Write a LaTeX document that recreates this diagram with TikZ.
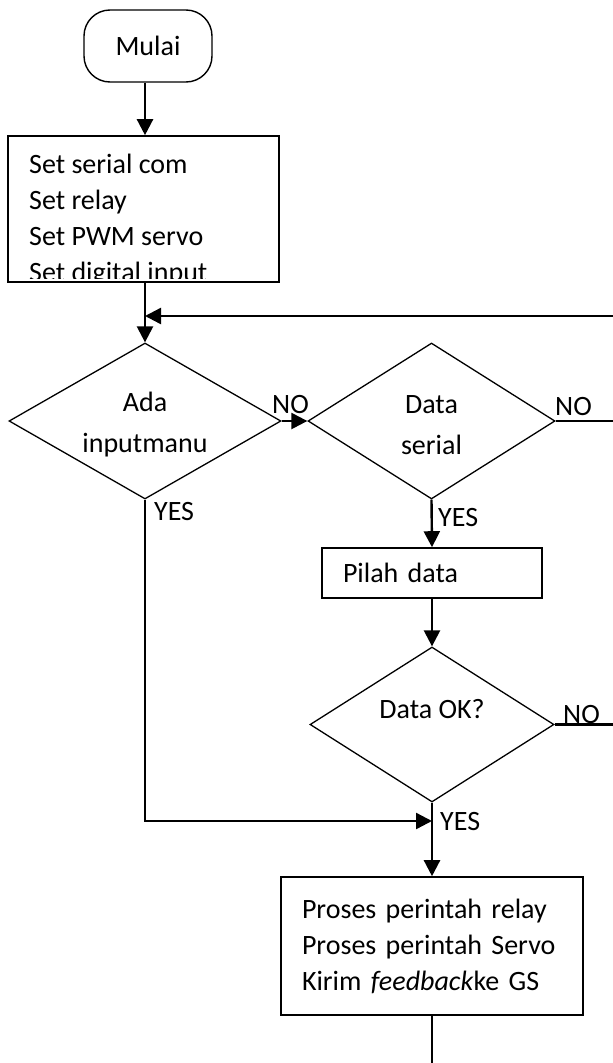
\documentclass[tikz,border=0pt]{standalone}
\usepackage{fontspec}
\setmainfont{Carlito}
\usetikzlibrary{shapes.geometric,arrows.meta,positioning}

\tikzset{
  huruf/.style={font=\fontsize{28}{36}\selectfont},
  terminal/.style={draw, line width=1.4pt, rounded corners=26pt, inner sep=0pt,
    minimum width=128pt, minimum height=72pt, huruf},
  kotak/.style={draw, line width=1.6pt, inner xsep=21pt, inner ysep=0pt,
    align=left, huruf},
  belah/.style={draw, diamond, line width=1.3pt, inner sep=0pt, aspect=1.6},
  isibelah/.style={align=center, inner sep=0pt, font=\fontsize{28}{41}\selectfont},
  lbl/.style={inner sep=0pt, anchor=base west, huruf},
  panah/.style={line width=2.4pt, -{Triangle[length=16pt,width=16pt]}},
  garis/.style={line width=2.4pt},
}

\begin{document}
\begin{tikzpicture}[x=1pt,y=-1pt]
  \useasboundingbox (0,0) rectangle (613,1063);

  % langkah-langkah
  \node[terminal] (mulai) at (148,46) {Mulai};
  \node[kotak, minimum width=271pt, minimum height=146pt] (init) at (143.5,209) {};
  \begin{scope}
    \clip (init.north west) rectangle ([yshift=4pt]init.south east);
    \node[lbl, align=left] (initteks) at (29,281)
      {Set serial com\\Set relay\\Set PWM servo\\Set digital input};
  \end{scope}
  \node[belah, minimum width=272pt, minimum height=156pt,
    label={[isibelah, yshift=-4pt]center:Ada\\inputmanu}] (cekmanual) at (145,421) {};
  \node[belah, minimum width=247pt, minimum height=156pt,
    label={[isibelah, yshift=-4pt]center:Data\\serial}] (cekserial) at (431.5,421) {};
  \node[kotak, minimum width=220pt, minimum height=50pt, text width=178pt, text depth=0pt] (pilah) at (432,573) {Pilah data};
  \node[belah, minimum width=244pt, minimum height=155pt,
    label={[isibelah, yshift=15pt]center:Data OK?}] (cekdata) at (432,724.5) {};
  \node[kotak, minimum width=302pt, minimum height=138pt, text width=260pt] (proses) at (432,946)
    {Proses perintah relay\\Proses perintah Servo\\Kirim \textit{feedback}ke GS};

  % ujung garis di tepi gambar
  \coordinate (kanan1) at (613,316);
  \coordinate (kanan2) at (613,421);
  \coordinate (kanan3) at (613,724.5);
  \coordinate (gabung) at (432,821);
  \coordinate (bawah) at (432,1063);

  % alur
  \draw[panah] (mulai.south -| cekmanual) -- (init.north -| cekmanual);
  \draw[panah] (init.south -| cekmanual) -- (cekmanual.north);
  \draw[panah] (kanan1) -- (kanan1 -| cekmanual);
  \draw[panah] (cekmanual.east) -- (cekserial.west);
  \draw[garis] (cekserial.east) -- (kanan2);
  \draw[panah] (cekserial.south) -- (pilah.north);
  \draw[panah] (pilah.south) -- (cekdata.north);
  \draw[garis] (cekdata.east) -- (kanan3);
  \draw[panah] (cekdata.south) -- (proses.north);
  \draw[panah] (cekmanual.south) |- (gabung);
  \draw[garis] (proses.south) -- (bawah);

  % keterangan
  \node[lbl] (no1) at (272,413) {NO};
  \node[lbl] (no2) at (555,415) {NO};
  \node[lbl] (no3) at (563,723) {NO};
  \node[lbl] (yes1) at (154,520) {YES};
  \node[lbl] (yes2) at (438,526) {YES};
  \node[lbl] (yes3) at (440,830) {YES};
\end{tikzpicture}
\end{document}
